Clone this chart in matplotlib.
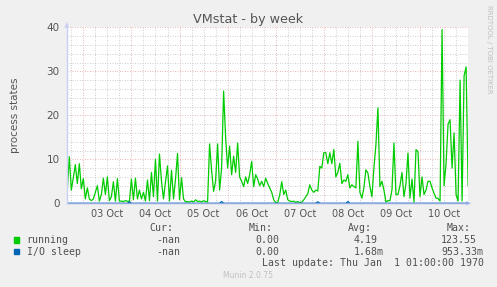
import numpy as np
import matplotlib
matplotlib.use("Agg")
import matplotlib.pyplot as plt

# hourly samples, hour 0 = 03 Oct 00:00
start_hour = -8
running = [
    3, 10.6, 3, 5.8, 8.8, 4.5, 9, 3.3,
    5.6, 1, 3.5, 1, 0.6, 1, 2.5, 4, 0.5, 2, 5.7, 2, 6, 0.6, 1.5, 4.9, 0.5, 5.6, 0.5,
    0.5, 0.4, 0.6, 0.5, 0.4,
    5.5, 0.8, 5.7, 1, 3, 1, 2.5, 0.5, 5.3, 0.6,
    7, 1.5, 10, 0.5, 11.2, 5, 1, 4.9, 8.5, 0.5,
    7.5, 1, 5.5, 11.3, 0.8, 5.8, 1, 0.3, 0.4, 0.3,
    0.5, 0.3, 0.8, 0.4, 0.5, 0.3, 0.6, 0.4, 0.3, 13.5,
    7.5, 2.7, 5, 13.5, 3, 8, 25.5, 15, 8, 13,
    6.5, 10.7, 7, 13.7, 6, 5, 3.8, 6, 4.5, 6.5,
    9.5, 3.8, 6.5, 5.5, 4, 5, 3.8, 5.7, 4.5, 3.5,
    2.5, 0.8, 0.15, 0.2, 1.9, 4.9, 2,
    3, 0.8, 0.5, 0.4, 0.5, 0.2, 0.4, 0.2, 0.2, 0.8,
    1.5, 2.2, 4.2, 3, 2.5, 3, 2.8, 8.4, 8, 11.5,
    11.5, 9, 11.5, 9, 12.2, 6, 7, 9.1, 4.5, 5.3,
    5, 6.5, 3.5, 4.2, 3.8, 3.5, 14.1, 2.5, 1.2, 3.5,
    7.6, 6.9, 3.8, 1.5, 8, 13.3, 21.7, 3.8, 5, 3,
    0.3, 0.6, 0.6, 3, 13.7, 2, 2, 4, 7, 1.5,
    4.5, 11.4, 1.2, 5.5, 0.3, 12.2, 11.7, 1.5,
    6, 2, 3, 5, 5, 3.5, 2.3, 1.2, 1.1, 0.5,
    39.5, 4, 9, 18, 19, 8, 16, 2, 0.5, 28,
    0.5, 29, 31, 4,
]
io_spike_hours = [23, 69, 117, 132]
io_spike_values = [0.35, 0.4, 0.35, 0.4]

day_labels = ["03 Oct", "04 Oct", "05 Oct", "06 Oct", "07 Oct", "08 Oct", "09 Oct", "10 Oct"]
y_ticks = [0, 10, 20, 30, 40]

hours = np.arange(start_hour, start_hour + len(running))
io_sleep = np.zeros(len(running))
for h, v in zip(io_spike_hours, io_spike_values):
    io_sleep[h - start_hour] = v

W, H = 497, 287
fig = plt.figure(figsize=(W / 100, H / 100), dpi=100, facecolor="#f0f0f0")
left, right, top, bottom = 66.7, 467.7, 27.3, 203.3
ax = fig.add_axes([left / W, 1 - bottom / H, (right - left) / W, (bottom - top) / H])
ax.set_facecolor("white")
x0, x1 = -8.3, 191.8
ax.set_xlim(x0, x1)
ax.set_ylim(0, 40)
for s in ax.spines.values():
    s.set_visible(False)

# grid
minor_style = dict(color="#bdbdbd", lw=0.6, ls=(0, (1, 2)), zorder=1)
major_style = dict(color="#e89a9a", lw=0.6, ls=(0, (1, 2)), zorder=1)
for y in np.arange(2, 40, 2):
    if y % 10:
        ax.axhline(y, **minor_style)
for y in [10, 20, 30, 40]:
    ax.axhline(y, **major_style)
for x in np.arange(-6, 192, 6):
    if x % 24:
        ax.axvline(x, **minor_style)
for x in np.arange(0, 192, 24):
    ax.axvline(x, **major_style)

ax.plot(hours, running, color="#00cc00", lw=0.9, zorder=3)
ax.axhline(0, color="#90a8e0", lw=1.0, zorder=4, clip_on=False)
ax.plot(hours, io_sleep, color="#0066b3", lw=0.9, zorder=5)

ax.set_xticks(np.arange(12, 192, 24), day_labels)
ax.set_yticks(y_ticks, [str(v) for v in y_ticks])
ax.tick_params(axis="x", length=0, pad=4, labelsize=7, labelcolor="#555555")
ax.tick_params(axis="y", length=0, pad=5, labelsize=7.5, labelcolor="#555555")

# axis lines with arrows
fig.add_artist(plt.Line2D([left / W, left / W], [1 - bottom / H, 1 - 24 / H], color="#c8d0f4", lw=1))
ax.annotate("", xy=(left / W, 1 - 20 / H), xytext=(left / W, 1 - 26 / H), xycoords="figure fraction",
            arrowprops=dict(arrowstyle="-|>", color="#c8d0f4", lw=0.8, mutation_scale=6))
ax.annotate("", xy=(474 / W, 1 - bottom / H), xytext=(467 / W, 1 - bottom / H), xycoords="figure fraction",
            arrowprops=dict(arrowstyle="-|>", color="#c8d0f4", lw=0.8, mutation_scale=6))


def ftext(x, y, s, **kw):
    fig.text(x / W, 1 - y / H, s, va="center", **kw)


ftext(248, 19, "VMstat - by week", ha="center", fontsize=9.2, color="#555555")
ftext(15, 115, "process states", ha="center", rotation=90, fontsize=7.5, color="#555555")
fig.text(489 / W, 1 - 5 / H, "RRDTOOL / TOBI OETIKER", rotation=270, ha="center", va="top",
         fontsize=5, color="#c0c0c0")

mono = dict(family="DejaVu Sans Mono", fontsize=7.1, color="#505050", ha="left")
ftext(149.3, 227.7, "Cur:", **mono)
ftext(248.7, 227.7, "Min:", **mono)
ftext(348, 227.7, "Avg:", **mono)
ftext(446.7, 227.7, "Max:", **mono)

legend_rows = [
    ("running", "#00cc00", "-nan", "0.00", "4.19", "123.55"),
    ("I/O sleep", "#0066b3", "-nan", "0.00", "1.68m", "953.33m"),
]
for i, (name, col, cur, mn, avg, mx) in enumerate(legend_rows):
    y = 240 + i * 11.7
    fig.patches.append(plt.Rectangle((14 / W, 1 - (y + 2.7) / H), 5.4 / W, 5.4 / H,
                                     transform=fig.transFigure, color=col))
    ftext(26.7, y, name, **mono)
    ftext(156.7, y, cur, **mono)
    ftext(255, y, mn, **mono)
    ftext(354, y, avg, **mono)
    ftext(441, y, mx, **mono)

ftext(261.7, 263.3, "Last update: Thu Jan  1 01:00:00 1970", **mono)
ftext(248, 276, "Munin 2.0.75", ha="center", fontsize=5.5, color="#c0c0c0")

fig.savefig("out.png", dpi=100, facecolor=fig.get_facecolor())
